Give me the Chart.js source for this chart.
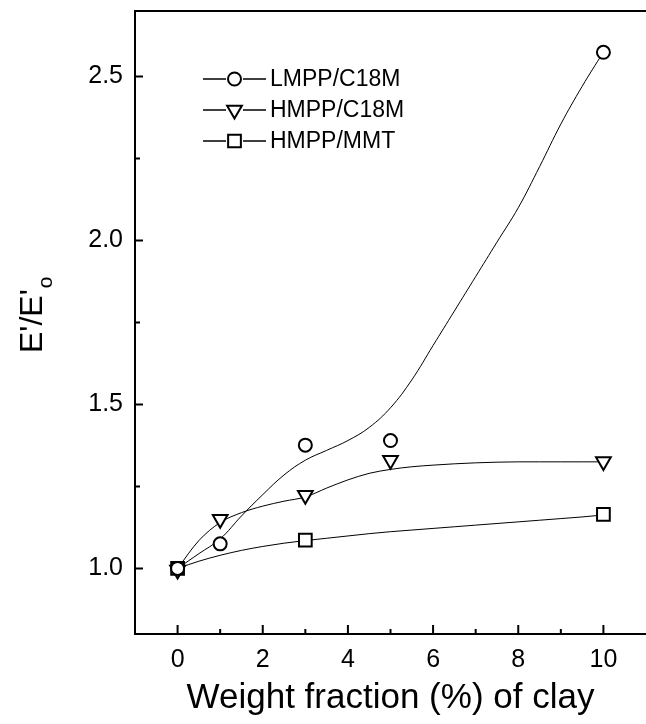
<!DOCTYPE html>
<html>
<head>
<meta charset="utf-8">
<script src="https://cdn.jsdelivr.net/npm/chart.js@4.4.0/dist/chart.umd.min.js"></script>
<style>
  html, body { margin: 0; padding: 0; background: #fff; }
  #wrap { width: 646px; height: 724px; }
</style>
</head>
<body>
<div id="wrap"><canvas id="myChart" width="646" height="724"></canvas></div>
<script>
// measured points
const clay = [0, 1, 3, 5, 10];
const lmppC18M = [1.0, 1.075, 1.376, 1.39, 2.574];
const hmppC18M = [0.995, 1.15, 1.223, 1.33, 1.326];
const hmppMMT = [1.0, null, 1.086, null, 1.165];

// fitted curves
const fitX = [0, 0.5, 1, 1.5, 2, 2.5, 3, 3.5, 4, 4.5, 5, 5.5, 6, 6.5, 7, 7.5, 8, 8.5, 9, 9.5, 10];
const fitLMPP = [1.0, 1.045, 1.09, 1.16, 1.225, 1.285, 1.33, 1.36, 1.39, 1.43, 1.49, 1.575, 1.68, 1.785, 1.89, 1.995, 2.10, 2.225, 2.355, 2.47, 2.575];
const fitHC18M = [1.0, 1.085, 1.14, 1.17, 1.19, 1.205, 1.218, 1.245, 1.27, 1.29, 1.302, 1.31, 1.315, 1.319, 1.322, 1.324, 1.325, 1.325, 1.325, 1.325, 1.325];
const fitMMT = [1.0, 1.022, 1.04, 1.055, 1.067, 1.077, 1.085, 1.092, 1.099, 1.106, 1.112, 1.117, 1.122, 1.127, 1.132, 1.137, 1.142, 1.147, 1.152, 1.157, 1.163];

const seriesLabels = ["LMPP/C18M", "HMPP/C18M", "HMPP/MMT"];
const xTicks = [0, 2, 4, 6, 8, 10];
const xMinor = [1, 3, 5, 7, 9];
const yTicks = [1.0, 1.5, 2.0, 2.5];
const yMinor = [1.25, 1.75, 2.25];

const FONT = "'Liberation Sans', Arial, sans-serif";

function pts(xs, ys) {
  const out = [];
  xs.forEach((x, i) => { if (ys[i] !== null) out.push({ x: x, y: ys[i] }); });
  return out;
}

function markerSet(label, ys, style, radius, rotation) {
  return {
    label: label,
    data: pts(clay, ys),
    showLine: false,
    pointStyle: style,
    pointRadius: radius,
    pointRotation: rotation,
    pointBorderWidth: 2,
    pointBorderColor: '#000',
    pointBackgroundColor: '#fff',
    order: 0
  };
}

function curveSet(ys, mode) {
  return {
    label: '',
    data: pts(fitX, ys),
    showLine: true,
    borderColor: '#000',
    borderWidth: 1,
    pointRadius: 0,
    cubicInterpolationMode: mode,
    tension: 0.4,
    fill: false,
    order: 1,
    isCurve: true
  };
}

// ticks inside, top frame line
const frame = {
  id: 'frame',
  afterDatasetsDraw(chart) {
    const ctx = chart.ctx;
    const a = chart.chartArea;
    const xs = chart.scales.x, ys = chart.scales.y;
    ctx.save();
    ctx.strokeStyle = '#000';
    ctx.lineWidth = 2;
    ctx.beginPath();
    ctx.moveTo(a.left - 1, a.top);
    ctx.lineTo(a.right, a.top);
    xTicks.forEach(v => { const p = xs.getPixelForValue(v); ctx.moveTo(p, a.bottom); ctx.lineTo(p, a.bottom - 9); });
    xMinor.forEach(v => { const p = xs.getPixelForValue(v); ctx.moveTo(p, a.bottom); ctx.lineTo(p, a.bottom - 5); });
    yTicks.forEach(v => { const p = ys.getPixelForValue(v); ctx.moveTo(a.left, p); ctx.lineTo(a.left + 8, p); });
    yMinor.forEach(v => { const p = ys.getPixelForValue(v); ctx.moveTo(a.left, p); ctx.lineTo(a.left + 5, p); });
    ctx.stroke();
    ctx.restore();
  }
};

// legend inside the plot, like the original
const innerLegend = {
  id: 'innerLegend',
  afterDraw(chart) {
    const ctx = chart.ctx;
    const sets = chart.data.datasets.filter(d => !d.isCurve);
    ctx.save();
    sets.forEach((d, i) => {
      const y = 79 + i * 31;
      ctx.strokeStyle = '#000';
      ctx.lineWidth = 1.5;
      ctx.beginPath();
      ctx.moveTo(203, y); ctx.lineTo(226, y);
      ctx.moveTo(243, y); ctx.lineTo(266, y);
      ctx.stroke();
      ctx.fillStyle = '#fff';
      ctx.lineWidth = 2;
      Chart.helpers.drawPoint(ctx, {
        pointStyle: d.pointStyle, radius: d.pointRadius, rotation: d.pointRotation, borderWidth: 2
      }, 234.5, y);
      ctx.fillStyle = '#000';
      ctx.font = '23px ' + FONT;
      ctx.textBaseline = 'middle';
      ctx.textAlign = 'left';
      ctx.fillText(d.label, 270, y + 1);
    });
    ctx.restore();
  }
};

// y axis title with subscript
const yTitle = {
  id: 'yTitle',
  afterDraw(chart) {
    const ctx = chart.ctx;
    ctx.save();
    ctx.translate(42, 353);
    ctx.rotate(-Math.PI / 2);
    ctx.fillStyle = '#000';
    ctx.textBaseline = 'alphabetic';
    ctx.textAlign = 'left';
    ctx.font = '32px ' + FONT;
    const main = "E'/E'";
    ctx.fillText(main, 0, 0);
    const w = ctx.measureText(main).width;
    ctx.font = '21px ' + FONT;
    ctx.fillText('o', w + 1, 10);
    ctx.restore();
  }
};

const ctx = document.getElementById('myChart');

new Chart(ctx, {
  type: 'scatter',
  data: {
    datasets: [
      markerSet(seriesLabels[0], lmppC18M, 'circle', 6.5, 0),
      markerSet(seriesLabels[1], hmppC18M, 'triangle', 8.5, 180),
      markerSet(seriesLabels[2], hmppMMT, 'rect', 9, 0),
      curveSet(fitLMPP, 'default'),
      curveSet(fitHC18M, 'monotone'),
      curveSet(fitMMT, 'monotone')
    ]
  },
  options: {
    responsive: false,
    animation: false,
    devicePixelRatio: 1,
    layout: { autoPadding: false, padding: { top: 11, right: 0, left: 0, bottom: 0 } },
    plugins: {
      legend: { display: false },
      tooltip: { enabled: false }
    },
    scales: {
      x: {
        type: 'linear',
        min: -1,
        max: 11,
        afterBuildTicks: s => { s.ticks = xTicks.map(v => ({ value: v })); },
        afterFit: s => { s.height = 90; s.paddingLeft = 0; s.paddingRight = 0; },
        grid: { display: false, drawTicks: false },
        border: { display: true, color: '#000', width: 2 },
        ticks: {
          color: '#000',
          padding: 11,
          maxRotation: 0,
          font: { family: FONT, size: 25 },
          callback: v => String(v)
        },
        title: {
          display: true,
          text: 'Weight fraction (%) of clay',
          color: '#000',
          font: { family: FONT, size: 35 },
          padding: { top: 0, bottom: 5 }
        }
      },
      y: {
        type: 'linear',
        min: 0.8,
        max: 2.7,
        afterBuildTicks: s => { s.ticks = yTicks.map(v => ({ value: v })); },
        afterFit: s => { s.width = 135; s.paddingTop = 0; s.paddingBottom = 0; },
        grid: { display: false, drawTicks: false },
        border: { display: true, color: '#000', width: 2 },
        ticks: {
          color: '#000',
          padding: 12,
          font: { family: FONT, size: 25 },
          callback: v => Number(v).toFixed(1)
        }
      }
    }
  },
  plugins: [frame, innerLegend, yTitle]
});
</script>
</body>
</html>
